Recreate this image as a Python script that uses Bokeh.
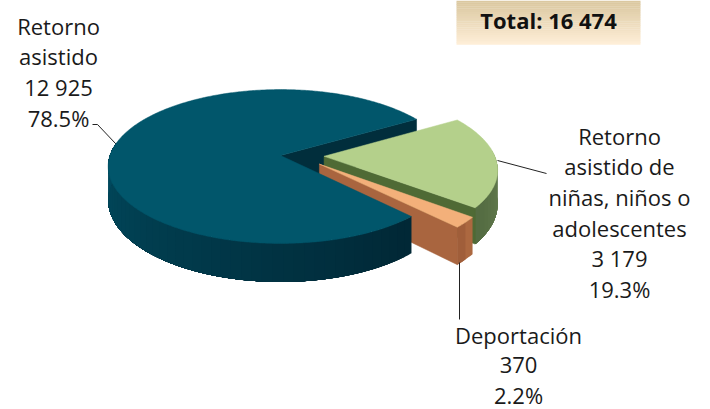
import numpy as np
from bokeh.plotting import figure
from bokeh.embed import file_html
from bokeh.resources import INLINE
from bokeh.core.properties import value

categories = ["Retorno asistido", "Retorno asistido de niñas, niños o adolescentes", "Deportación"]
values = [12925, 3179, 370]
percents = ["78.5%", "19.3%", "2.2%"]
counts = ["12 925", "3 179", "370"]
total_label = "Total: 16 474"
label_lines = [["Retorno", "asistido"], ["Retorno", "asistido de", "niñas, niños o", "adolescentes"], ["Deportación"]]

# layout (reference pixels)
CX, CY, RX, RY, K, DEPTH = 280.0, 155.0, 174.0, 76.9, 0.146, 33.0
RAD = 0.98
START = 46.5
EXPLODE = [(0.0, 0.0), (0.25, 0.01), (0.22, 0.11)]

FONT = "Open Sans"
TOP = ["#01566b", "#b4d08b", "#f3b07a"]
WALL = ["#012e3c", "#4f6a35", "#a9653f"]
RIM_A = [(1, 76, 96), (107, 130, 84), (172, 104, 64)]   # shade at the near-left end
RIM_B = [(1, 40, 54), (84, 108, 66), (160, 94, 58)]     # shade at the front


def proj(u, v, z=0.0):
    u = np.asarray(u, float)
    v = np.asarray(v, float)
    s = 1.0 / (1.0 - K * v)
    return CX + RX * u * s, CY + RY * v * s + DEPTH * z * s


p = figure(width=710, height=409, x_range=(0, 710), y_range=(409, 0),
           x_axis_type=None, y_axis_type=None, toolbar_location=None,
           output_backend="svg", min_border=0, outline_line_color=None,
           background_fill_color="white", border_fill_color="white")
p.grid.visible = False

total = sum(values)
spans = []
a = START
for val in values:
    b = a + 360.0 * val / total
    spans.append((a, b))
    a = b


def arc(i, a0, a1, n=None):
    n = n or max(3, int(abs(a1 - a0) * 1.5))
    t = np.radians(np.linspace(a0, a1, n))
    ex, ey = EXPLODE[i]
    return ex + RAD * np.cos(t), ey + RAD * np.sin(t)


def top(i):
    a0, a1 = spans[i]
    u, v = arc(i, a0, a1)
    ex, ey = EXPLODE[i]
    x, y = proj(np.r_[ex, u], np.r_[ey, v])
    p.patch(x, y, fill_color=TOP[i], line_color=TOP[i], line_width=0.5)


def wall(i, ang):
    ex, ey = EXPLODE[i]
    u, v = arc(i, ang, ang, 2)
    tx, ty = proj(u[0], v[0])
    tx2, ty2 = proj(u[0], v[0], 1)
    ax, ay = proj(ex, ey)
    ax2, ay2 = proj(ex, ey, 1)
    p.patch([ax, tx, tx2, ax2], [ay, ty, ty2, ay2], fill_color=WALL[i], line_color=WALL[i], line_width=0.5)


def rim(i, a0, a1, flip=False, seg=3.0):
    # painted from one end, each band running on to the far end, so no seams show
    n = max(2, int(abs(a1 - a0) / seg))
    edges = np.linspace(a0, a1, n + 1)
    for j in range(n):
        frac = j / max(1, n - 1)
        if flip:
            frac = 1 - frac
        c = tuple(int(RIM_B[i][k] + (RIM_A[i][k] - RIM_B[i][k]) * frac) for k in range(3))
        col = "#%02x%02x%02x" % c
        u, v = arc(i, edges[j], a1, max(3, int((a1 - edges[j]) * 1.5)))
        x1, y1 = proj(u, v)
        x2, y2 = proj(u, v, 1)
        p.patch(np.r_[x1, x2[::-1]], np.r_[y1, y2[::-1]], fill_color=col, line_color=None)


# back to front
wall(0, spans[0][1] - 360)
g0, g1 = spans[1]
g0n = g0 - 360
rim(1, max(g0n, -5), g1 - 360, flip=True)
wall(1, g1 - 360)
top(1)
o0, o1 = spans[2]
wall(2, o1 - 360)
rim(2, o0 - 360, o1 - 360, flip=True)
top(2)
b0, b1 = spans[0]
rim(0, b0, 190)
top(0)

# leaders
p.line([92, 97, 115], [124, 124, 143], line_color="#222222", line_width=1)
p.line([497, 546], [160, 173], line_color="#222222", line_width=1)
p.line([459, 459], [262, 319], line_color="#222222", line_width=1)

# total box
box_cols = np.linspace(0, 1, 23)
edges_y = np.linspace(0, 44, 24)
for f, y0, y1 in zip(box_cols, edges_y[:-1], edges_y[1:]):
    c = (int(219 + 35 * f), int(200 + 38 * f), int(160 + 55 * f))
    col = "#%02x%02x%02x" % c
    p.quad(left=456, right=640, top=y0, bottom=y1 + 0.3, fill_color=col, line_color=None)
p.text([548], [19], text=[total_label], text_font=value(FONT), text_font_style="bold",
       text_font_size="22px", text_align="center", text_baseline="middle", text_color="#111111")


def block(x, y0, lines, step=30.7):
    for n, t in enumerate(lines):
        p.text([x], [y0 + n * step], text=[t], text_font=value(FONT), text_font_size="22px",
               text_align="center", text_baseline="middle", text_color="#1a1a1a")


block(58, 25, label_lines[0] + [counts[0], percents[0]])
block(619, 135, label_lines[1] + [counts[1], percents[1]])
block(518, 334, label_lines[2] + [counts[2], percents[2]], step=30.2)

open("out.html", "w").write(file_html(p, INLINE))
